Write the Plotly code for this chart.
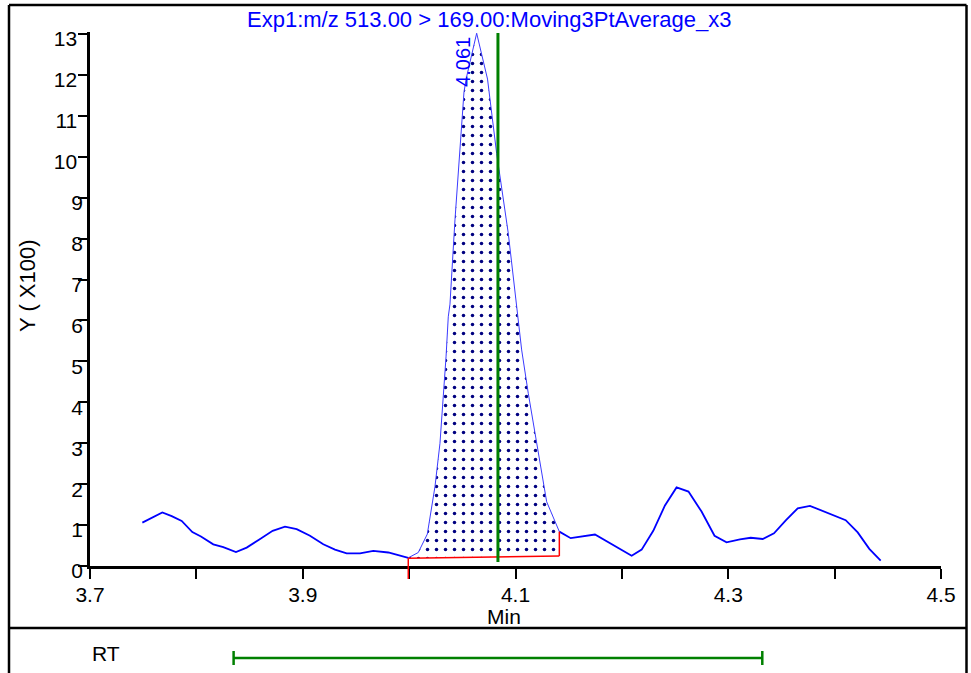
import numpy as np
import plotly.graph_objects as go

# ---------------- data ----------------
time_min = [3.7492, 3.7680, 3.7768, 3.7862, 3.7962, 3.8043, 3.8159, 3.8253, 3.8372, 3.8473,
            3.8592, 3.8717, 3.8833, 3.8943, 3.9068, 3.9193, 3.9303, 3.9413, 3.9538, 3.9663,
            3.9804, 3.9992, 4.0086, 4.0171, 4.0243, 4.0290, 4.0321, 4.0347, 4.0368, 4.0384,
            4.0431, 4.0478, 4.0516, 4.0541, 4.0635, 4.0737, 4.0823, 4.0932, 4.1011, 4.1058,
            4.1120, 4.1199, 4.1230, 4.1293, 4.1412, 4.1519, 4.1747, 4.2092, 4.2186, 4.2295,
            4.2405, 4.2514, 4.2626, 4.2749, 4.2871, 4.2984, 4.3110, 4.3211, 4.3324, 4.3430,
            4.3543, 4.3653, 4.3768, 4.3879, 4.3994, 4.4104, 4.4217, 4.4326, 4.4433]
intensity_x100 = [1.06, 1.31, 1.22, 1.10, 0.83, 0.72, 0.53, 0.46, 0.34, 0.45,
                  0.65, 0.86, 0.96, 0.90, 0.74, 0.53, 0.40, 0.31, 0.31, 0.37,
                  0.33, 0.20, 0.33, 0.78, 1.94, 3.00, 4.06, 5.11, 6.09, 6.40,
                  8.46, 10.17, 11.59, 11.96, 13.02, 11.90, 10.08, 8.13, 6.34, 5.28,
                  4.22, 3.00, 2.47, 1.57, 0.84, 0.68, 0.77, 0.25, 0.40, 0.86,
                  1.48, 1.92, 1.82, 1.33, 0.74, 0.58, 0.65, 0.69, 0.66, 0.80,
                  1.12, 1.41, 1.47, 1.35, 1.23, 1.12, 0.82, 0.42, 0.13]

peak_start = 3.9992
peak_end = 4.1412
baseline_values = [0.19, 0.245]
peak_apex_time = 4.0635
peak_label = "4.061"
expected_rt = 4.0835
rt_window = 0.2485

title_text = "Exp1:m/z 513.00 > 169.00:Moving3PtAverage_x3"
x_tick_values = [3.7, 3.8, 3.9, 4.0, 4.1, 4.2, 4.3, 4.4, 4.5]
x_tick_labels = ["3.7", "", "3.9", "", "4.1", "", "4.3", "", "4.5"]
y_tick_values = list(range(0, 14))
y_tick_labels = [str(v) if v < 10 else str(v) + "\u00a0" for v in y_tick_values]

# ---------------- layout geometry ----------------
FIG_W, FIG_H = 971, 673
L, R, T, B = 90, 941, 32, 566
PW, PH = R - L, B - T
YMAX = 13.05
FONT = "Liberation Sans, Arial, sans-serif"
BLUE = "#0000ff"
GREEN = "#008000"
RED = "#ff0000"


def px_x(px):
    return (px - L) / PW


def px_y(py):
    return (B - py) / PH


t = np.array(time_min)
v = np.array(intensity_x100)
eps = 1e-6
m_left = t <= peak_start + eps
m_in = (t >= peak_start - eps) & (t <= peak_end + eps)
m_right = t >= peak_end - eps
end_curve_val = float(v[np.argmin(np.abs(t - peak_end))])
apex_val = float(v[np.argmin(np.abs(t - peak_apex_time))])

fig = go.Figure()
# hidden baseline for the fill
fig.add_trace(go.Scatter(x=[peak_start, peak_end], y=baseline_values, mode="lines",
                         line=dict(width=0), hoverinfo="skip", showlegend=False))
fig.add_trace(go.Scatter(x=t[m_in], y=v[m_in], mode="lines", line=dict(width=0),
                         fill="tonexty", fillcolor="white",
                         fillpattern=dict(shape=".", fgcolor="#000080", bgcolor="white",
                                          fgopacity=1, size=9, solidity=0.12),
                         hoverinfo="skip", showlegend=False))
fig.add_trace(go.Scatter(x=t[m_left], y=v[m_left], mode="lines",
                         line=dict(color=BLUE, width=1.8), showlegend=False))
fig.add_trace(go.Scatter(x=t[m_in], y=v[m_in], mode="lines",
                         line=dict(color="#3b3bff", width=1), showlegend=False))
fig.add_trace(go.Scatter(x=t[m_right], y=v[m_right], mode="lines",
                         line=dict(color=BLUE, width=1.8), showlegend=False))
fig.add_trace(go.Scatter(x=[peak_start, peak_end], y=baseline_values, mode="lines",
                         line=dict(color=RED, width=1.5), showlegend=False))
fig.add_trace(go.Scatter(x=[peak_end, peak_end], y=[baseline_values[1], end_curve_val],
                         mode="lines", line=dict(color=RED, width=1.5), showlegend=False))

shapes = []
fl = dict(color="black", width=2.5)
# outer frame and separator
shapes.append(dict(type="line", xref="paper", yref="paper", x0=px_x(9), x1=px_x(9),
                   y0=px_y(5), y1=px_y(700), line=fl))
shapes.append(dict(type="line", xref="paper", yref="paper", x0=px_x(966.5), x1=px_x(966.5),
                   y0=px_y(5), y1=px_y(700), line=fl))
shapes.append(dict(type="line", xref="paper", yref="paper", x0=px_x(9), x1=px_x(966.5),
                   y0=px_y(5), y1=px_y(5), line=fl))
shapes.append(dict(type="line", xref="paper", yref="paper", x0=px_x(9), x1=px_x(966.5),
                   y0=px_y(628), y1=px_y(628), line=fl))
# red start marker of the integration
shapes.append(dict(type="line", xref="x", yref="paper", x0=peak_start, x1=peak_start,
                   y0=baseline_values[0] / YMAX, y1=px_y(579), line=dict(color=RED, width=1.5),
                   layer="above"))
# green expected RT line
shapes.append(dict(type="line", xref="x", yref="paper", x0=expected_rt, x1=expected_rt,
                   y0=px_y(562), y1=px_y(33), line=dict(color=GREEN, width=3), layer="above"))
# RT window bar
gl = dict(color=GREEN, width=2.5)
shapes.append(dict(type="line", xref="x", yref="paper", x0=expected_rt - rt_window,
                   x1=expected_rt + rt_window, y0=px_y(658), y1=px_y(658), line=gl))
for xe in (expected_rt - rt_window, expected_rt + rt_window):
    shapes.append(dict(type="line", xref="x", yref="paper", x0=xe, x1=xe,
                       y0=px_y(651), y1=px_y(665), line=gl))

annotations = [
    dict(text=title_text, xref="paper", yref="paper", x=px_x(489), y=px_y(19),
         xanchor="center", yanchor="middle", showarrow=False, font=dict(color=BLUE, size=22)),
    dict(text="Y ( X100)", xref="paper", yref="paper", x=px_x(27), y=px_y(286),
         textangle=-90, xanchor="center", yanchor="middle", showarrow=False,
         font=dict(color="black", size=22)),
    dict(text="Min", xref="paper", yref="paper", x=px_x(504), y=px_y(616),
         xanchor="center", yanchor="middle", showarrow=False, font=dict(color="black", size=21)),
    dict(text="RT", xref="paper", yref="paper", x=px_x(105.5), y=px_y(653),
         xanchor="center", yanchor="middle", showarrow=False, font=dict(color="black", size=21)),
    dict(text=peak_label, xref="x", yref="y", x=peak_apex_time, y=apex_val,
         xshift=-13, yshift=-29, textangle=-90, xanchor="center", yanchor="middle",
         showarrow=False, font=dict(color=BLUE, size=20)),
]

fig.update_layout(
    width=FIG_W, height=FIG_H, autosize=False,
    margin=dict(l=L, r=FIG_W - R, t=T, b=FIG_H - B, pad=0),
    paper_bgcolor="white", plot_bgcolor="white",
    font=dict(family=FONT, size=21, color="black"),
    shapes=shapes, annotations=annotations, showlegend=False,
)
fig.update_xaxes(range=[3.7, 4.5], tickvals=x_tick_values, ticktext=x_tick_labels,
                 ticks="outside", ticklen=10, tickwidth=2, tickcolor="black",
                 showline=True, linecolor="black", linewidth=2.5, showgrid=False,
                 zeroline=False, tickfont=dict(size=21), ticklabelstandoff=-2)
fig.update_yaxes(range=[0, YMAX], tickvals=y_tick_values, ticktext=y_tick_labels,
                 ticks="outside", ticklen=9, tickwidth=2, tickcolor="black",
                 showline=True, linecolor="black", linewidth=2.5, showgrid=False,
                 zeroline=False, tickfont=dict(size=21), ticklabelstandoff=-9,
                 ticklabelshift=5)

fig.write_html("out.html", config={"displayModeBar": False},
               post_script="document.body.style.margin='0px';document.body.style.overflow='hidden';")
